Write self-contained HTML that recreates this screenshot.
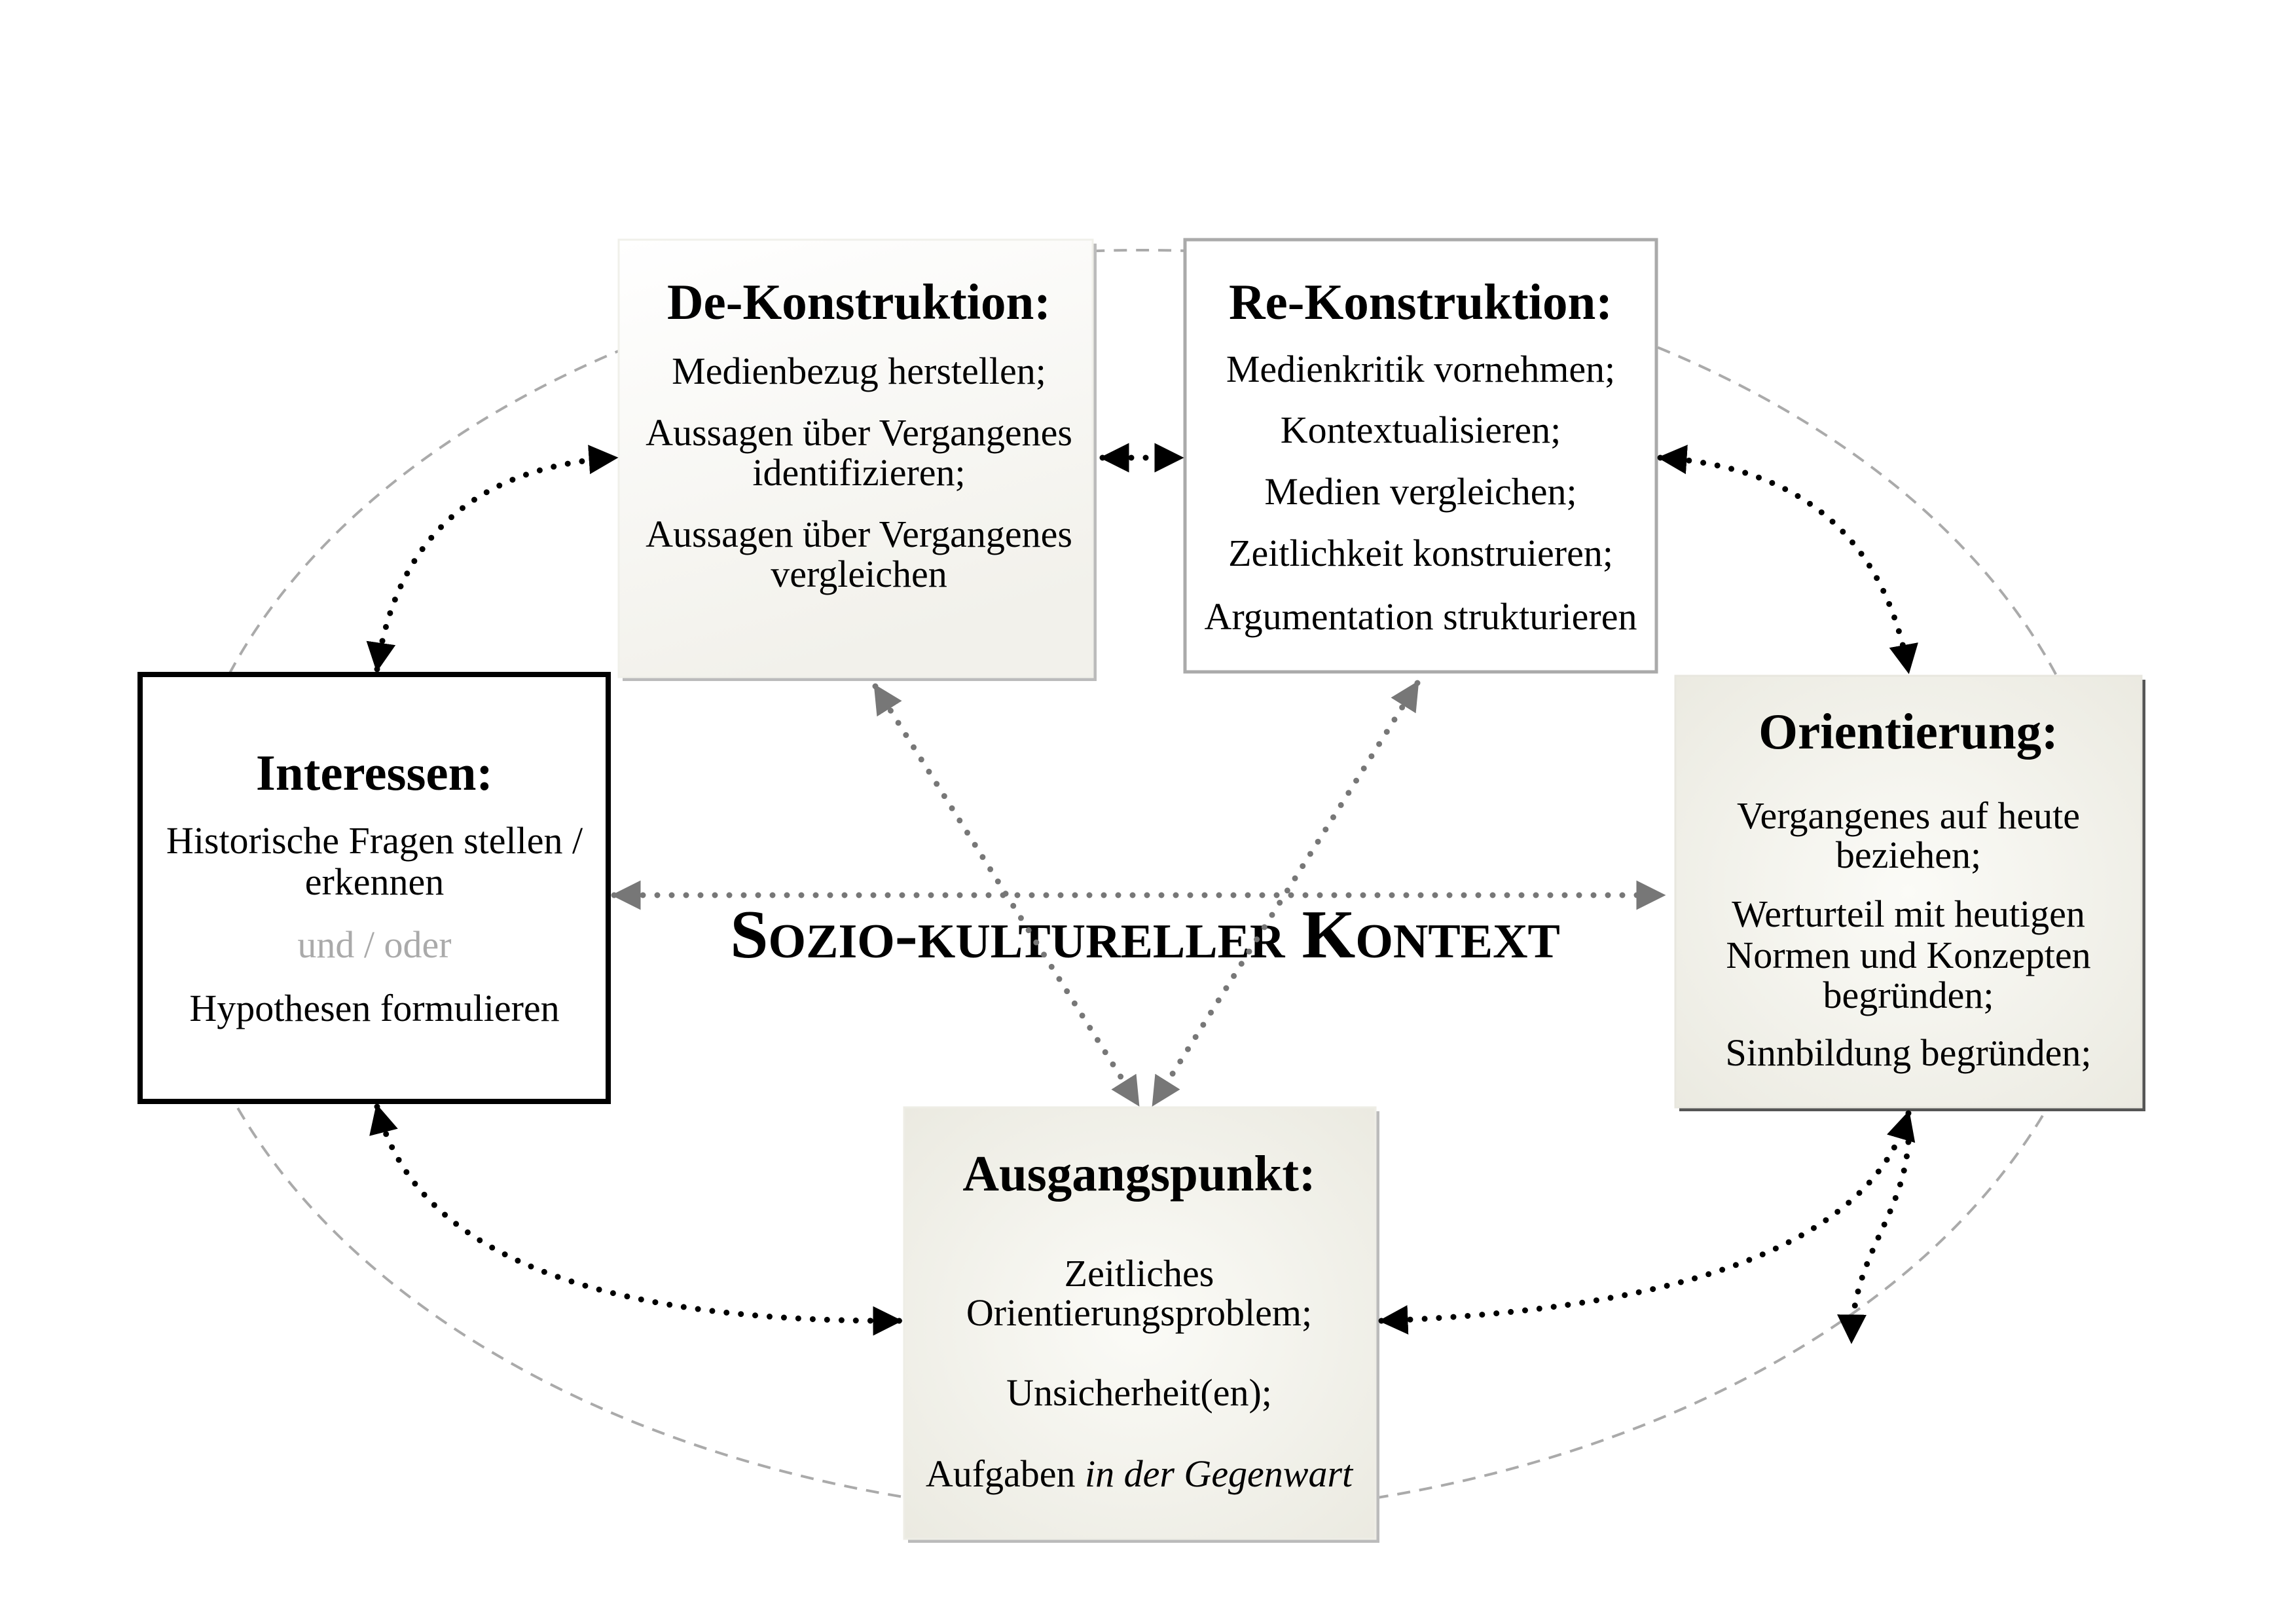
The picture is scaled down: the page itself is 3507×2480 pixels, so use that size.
<!DOCTYPE html>
<html><head><meta charset="utf-8">
<style>
html,body{margin:0;padding:0;background:#fff;}
svg{display:block;}
text{font-family:"Liberation Serif",serif;}
</style></head>
<body>
<svg width="3507" height="2480" viewBox="0 0 3507 2480" xmlns="http://www.w3.org/2000/svg">
<defs>
<linearGradient id="g1" x1="0" y1="0" x2="0.3" y2="1">
<stop offset="0" stop-color="#ffffff"/><stop offset="1" stop-color="#f2f1eb"/></linearGradient>
<radialGradient id="g2" cx="0.5" cy="0.5" r="0.7">
<stop offset="0" stop-color="#fbfbf7"/><stop offset="1" stop-color="#ebeae1"/></radialGradient>
<marker id="ab" viewBox="0 0 10 10" refX="9" refY="5" markerWidth="5" markerHeight="5" markerUnits="strokeWidth" orient="auto-start-reverse">
<path d="M0,0 L10,5 L0,10 z" fill="#000"/></marker>
<marker id="ag" viewBox="0 0 10 10" refX="9" refY="5" markerWidth="5" markerHeight="5" markerUnits="strokeWidth" orient="auto-start-reverse">
<path d="M0,0 L10,5 L0,10 z" fill="#777"/></marker>
</defs>

<ellipse cx="1745" cy="1349" rx="1478" ry="967" fill="none" stroke="#aaa" stroke-width="4" stroke-dasharray="20 14"/>

<rect x="951" y="372" width="724" height="668" fill="#bbb"/>
<rect x="945" y="366" width="724" height="668" fill="url(#g1)" stroke="#f0f0ea" stroke-width="3"/>

<rect x="1810" y="366" width="720" height="660" fill="#fff" stroke="#aaa" stroke-width="5"/>

<rect x="214" y="1030" width="715" height="652" fill="#fff" stroke="#000" stroke-width="8"/>

<rect x="2565" y="1038" width="712" height="659" fill="#555"/>
<rect x="2559" y="1032" width="712" height="659" fill="url(#g2)" stroke="#e8e7df" stroke-width="3"/>

<rect x="1387" y="1697" width="720" height="659" fill="#bbb"/>
<rect x="1381" y="1691" width="720" height="659" fill="url(#g2)" stroke="#eeede6" stroke-width="3"/>

<text x="1749" y="1462" text-anchor="middle" font-size="105" font-weight="bold" style="font-variant:small-caps">Sozio-kultureller Kontext</text>

<g fill="none" stroke="#777" stroke-width="9" stroke-linecap="round" stroke-dasharray="0 22">
<path d="M938,1367 L2540,1367" marker-start="url(#ag)" marker-end="url(#ag)"/>
<path d="M1337,1048 L1738,1686" marker-start="url(#ag)" marker-end="url(#ag)"/>
<path d="M2165,1043 L1762,1686" marker-start="url(#ag)" marker-end="url(#ag)"/>
</g>

<g fill="none" stroke="#000" stroke-width="9" stroke-linecap="round" stroke-dasharray="0 22">
<path d="M576,1022 Q620,720 940,699" marker-start="url(#ab)" marker-end="url(#ab)"/>
<path d="M1684,699 L1804,699" marker-start="url(#ab)" marker-end="url(#ab)"/>
<path d="M2536,699 Q2860,720 2915,1025" marker-start="url(#ab)" marker-end="url(#ab)"/>
<path d="M576,1690 Q660,2020 1374,2017" marker-start="url(#ab)" marker-end="url(#ab)"/>
<path d="M2110,2017 Q2830,1990 2915,1700" marker-start="url(#ab)" marker-end="url(#ab)"/>
<path d="M2915,1700 C2925,1850 2830,1900 2828,2048" marker-end="url(#ab)"/>
</g>

<g text-anchor="middle" font-size="58">
<text x="1312" y="487" font-size="77" font-weight="bold">De-Konstruktion:</text>
<text x="1312" y="586">Medienbezug herstellen;</text>
<text x="1312" y="680">Aussagen über Vergangenes</text>
<text x="1312" y="741">identifizieren;</text>
<text x="1312" y="835">Aussagen über Vergangenes</text>
<text x="1312" y="896">vergleichen</text>

<text x="2170" y="487" font-size="77" font-weight="bold">Re-Konstruktion:</text>
<text x="2170" y="583">Medienkritik vornehmen;</text>
<text x="2170" y="676">Kontextualisieren;</text>
<text x="2170" y="770">Medien vergleichen;</text>
<text x="2170" y="864">Zeitlichkeit konstruieren;</text>
<text x="2170" y="961">Argumentation strukturieren</text>

<text x="572" y="1206" font-size="77" font-weight="bold">Interessen:</text>
<text x="572" y="1303">Historische Fragen stellen /</text>
<text x="572" y="1366">erkennen</text>
<text x="572" y="1462" fill="#aaa">und / oder</text>
<text x="572" y="1559">Hypothesen formulieren</text>

<text x="2915" y="1143" font-size="77" font-weight="bold">Orientierung:</text>
<text x="2915" y="1265">Vergangenes auf heute</text>
<text x="2915" y="1325">beziehen;</text>
<text x="2915" y="1415">Werturteil mit heutigen</text>
<text x="2915" y="1478">Normen und Konzepten</text>
<text x="2915" y="1539">begründen;</text>
<text x="2915" y="1627">Sinnbildung begründen;</text>

<text x="1740" y="1818" font-size="77" font-weight="bold">Ausgangspunkt:</text>
<text x="1740" y="1964">Zeitliches</text>
<text x="1740" y="2024">Orientierungsproblem;</text>
<text x="1740" y="2146">Unsicherheit(en);</text>
<text x="1740" y="2270">Aufgaben <tspan font-style="italic">in der Gegenwart</tspan></text>
</g>
</svg>
</body></html>
